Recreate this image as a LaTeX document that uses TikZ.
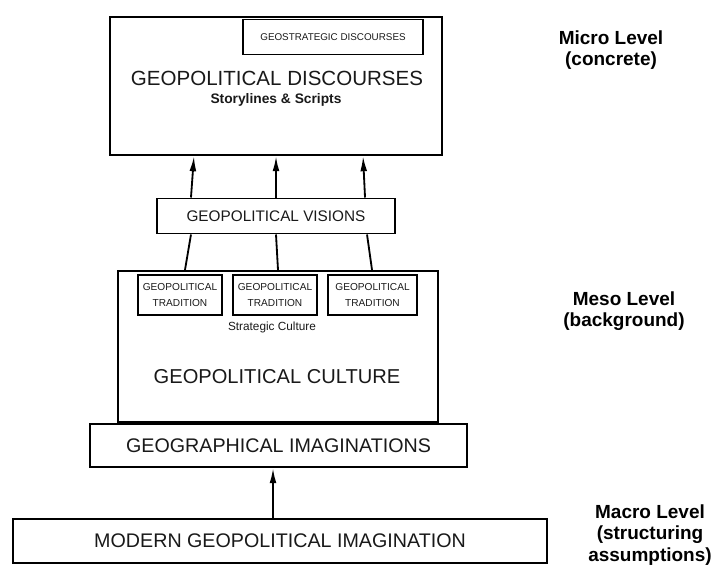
\documentclass[tikz,border=0pt]{standalone}
\usepackage{fontspec}
\setmainfont{Liberation Sans}
\usetikzlibrary{arrows.meta}
\usetikzlibrary{positioning}

\begin{document}
\begin{tikzpicture}[x=0.025cm, y=-0.025cm,
  box/.style={draw, line width=1.4pt, inner sep=0pt, text=black!90},
  tradbox/.style={draw, line width=2pt, inner sep=0pt, minimum width=2.1cm, minimum height=1cm,
    align=center, font=\fontsize{7.2}{11.5}\selectfont, text=black!90},
  arr/.style={line width=1.3pt, -{Latex[length=3.8mm, width=1.7mm]}},
  level/.style={align=center, font=\bfseries\fontsize{13.5}{15}\selectfont}]
  \useasboundingbox (0,0) rectangle (714,570);

  % 言説
  \node[box, minimum width=8.3cm, minimum height=3.45cm] (disc) at (276,86) {};
  \node[box, minimum width=4.5cm, minimum height=0.875cm,
        font=\fontsize{7}{8}\selectfont] (strat) at (333,37) {GEOSTRATEGIC DISCOURSES};
  \node[font=\fontsize{14.6}{16}\selectfont, text=black!90] (disctitle) at (277,78) {GEOPOLITICAL DISCOURSES};
  \node[font=\bfseries\fontsize{9.8}{11}\selectfont, text=black!90] (story) at (276,100) {Storylines \& Scripts};

  % ビジョン
  \node[box, minimum width=5.95cm, minimum height=0.875cm,
        font=\fontsize{10.9}{12}\selectfont] (visions) at (276,216) {GEOPOLITICAL VISIONS};

  % 文化
  \node[box, minimum width=8cm, minimum height=3.775cm] (culture) at (278,346.5) {};
  \node[tradbox] (trad1) at (180,295) {GEOPOLITICAL\\TRADITION};
  \node[tradbox] (trad2) at (275,295) {GEOPOLITICAL\\TRADITION};
  \node[tradbox, minimum width=2.225cm] (trad3) at (372.5,295) {GEOPOLITICAL\\TRADITION};
  \node[font=\fontsize{8.4}{10}\selectfont, text=black!90] (stratcult) at (272,327) {Strategic Culture};
  \node[font=\fontsize{14.3}{16}\selectfont, text=black!90] (culttitle) at (277,377) {GEOPOLITICAL CULTURE};

  % 想像
  \node[box, minimum width=9.425cm, minimum height=1.075cm,
        font=\fontsize{14}{16}\selectfont] (geog) at (278.5,445.5) {GEOGRAPHICAL IMAGINATIONS};
  \node[box, minimum width=13.35cm, minimum height=1.1cm,
        font=\fontsize{14}{16}\selectfont] (modern) at (280,541) {MODERN GEOPOLITICAL IMAGINATION};

  % 矢印
  \draw[arr] ([xshift=-2.125cm]visions.north) -- ([xshift=-2.05cm]disc.south);
  \draw[arr] (visions.north) -- (disc.south);
  \draw[arr] ([xshift=2.225cm]visions.north) -- ([xshift=2.175cm]disc.south);
  \draw[line width=1.3pt] ([xshift=-2.125cm]visions.south) -- ([xshift=-2.325cm]culture.north);
  \draw[line width=1.3pt] (visions.south) -- (culture.north);
  \draw[line width=1.3pt] ([xshift=2.275cm]visions.south) -- ([xshift=2.35cm]culture.north);
  \draw[arr] ([xshift=-0.175cm]modern.north) -- ([xshift=-0.175cm]modern.north |- geog.south);

  % レベル
  \node[level] (micro) at (611,50) {Micro Level\\(concrete)};
  \node[level] (meso) at (624,311) {Meso Level\\(background)};
  \node[level] (macro) at (650,535) {Macro Level\\(structuring\\assumptions)};
\end{tikzpicture}
\end{document}
